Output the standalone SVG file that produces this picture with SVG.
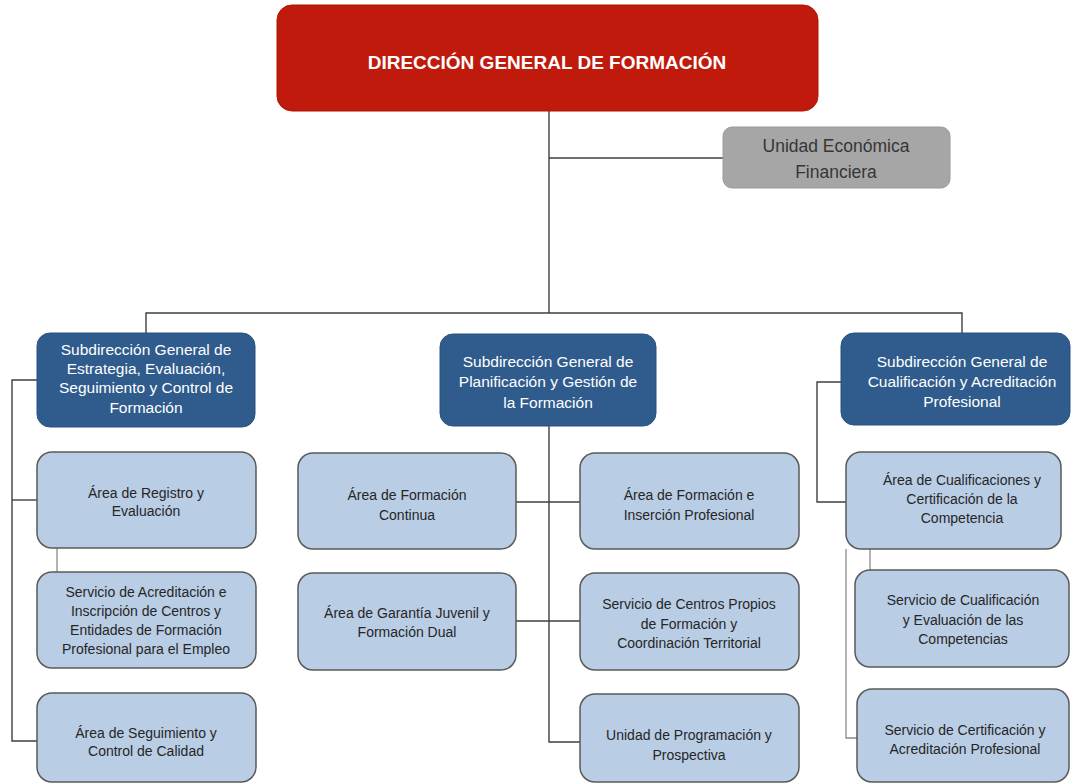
<svg xmlns="http://www.w3.org/2000/svg" width="1071" height="784" viewBox="0 0 1071 784">
<style>
.bg{fill:#ffffff}
.red{fill:#BF1A0B;stroke:#B01508;stroke-width:1}
.gray{fill:#A6A6A6;stroke:#9A9A9A;stroke-width:1}
.blue{fill:#2F5B8D;stroke:#2A5380;stroke-width:1}
.light{fill:#B9CDE5;stroke:#5A5A5A;stroke-width:1.5}
.t-red{font-family:"Liberation Sans",Arial,sans-serif;font-size:19px;font-weight:bold;fill:#ffffff;text-anchor:middle}
.t-gray{font-family:"Liberation Sans",Arial,sans-serif;font-size:17.5px;fill:#363636;text-anchor:middle}
.t-blue{font-family:"Liberation Sans",Arial,sans-serif;font-size:15.5px;fill:#ffffff;text-anchor:middle}
.t-light{font-family:"Liberation Sans",Arial,sans-serif;font-size:14px;fill:#262626;text-anchor:middle}
.c{fill:none;stroke:#3F3F3F;stroke-width:1.4}
.c2{fill:none;stroke:#8A8A8A;stroke-width:1.3}
</style>
<rect class="bg" x="0" y="0" width="1071" height="784"/>
<g id="connectors">
<path class="c" d="M549,111 V313"/>
<path class="c" d="M549,158 H723"/>
<path class="c" d="M146,333 V313 H962 V333"/>
<path class="c" d="M549,426 V742 H580"/>
<path class="c" d="M516,502 H580"/>
<path class="c" d="M516,621 H580"/>
<path class="c" d="M37,380 H12 V741 H37"/>
<path class="c" d="M12,500 H37"/>
<path class="c2" d="M57,548 V572"/>
<path class="c" d="M841,382 H817 V502 H846"/>
<path class="c2" d="M846,549 V738 H857"/>
<path class="c2" d="M870,549 V570"/>
</g>
<g id="dg">
<rect class="red" x="277" y="5" width="541" height="106" rx="15"/>
<text class="t-red" x="547" y="69">DIRECCIÓN GENERAL DE FORMACIÓN</text>
</g>
<g id="uef">
<rect class="gray" x="723" y="127" width="227" height="61" rx="9"/>
<text class="t-gray" x="836" y="152">Unidad Económica</text>
<text class="t-gray" x="836" y="178">Financiera</text>
</g>
<g id="sg1">
<rect class="blue" x="37" y="333" width="218" height="94" rx="13"/>
<text class="t-blue" x="146" y="355">Subdirección General de</text>
<text class="t-blue" x="146" y="374">Estrategia, Evaluación,</text>
<text class="t-blue" x="146" y="393">Seguimiento y Control de</text>
<text class="t-blue" x="146" y="413">Formación</text>
</g>
<g id="sg2">
<rect class="blue" x="440" y="334" width="216" height="92" rx="13"/>
<text class="t-blue" x="548" y="367">Subdirección General de</text>
<text class="t-blue" x="548" y="387">Planificación y Gestión de</text>
<text class="t-blue" x="548" y="408">la Formación</text>
</g>
<g id="sg3">
<rect class="blue" x="841" y="333" width="229" height="92" rx="13"/>
<text class="t-blue" x="962" y="367">Subdirección General de</text>
<text class="t-blue" x="962" y="387">Cualificación y Acreditación</text>
<text class="t-blue" x="962" y="407">Profesional</text>
</g>
<g id="l1">
<rect class="light" x="37" y="452" width="219" height="96" rx="15"/>
<text class="t-light" x="146" y="498">Área de Registro y</text>
<text class="t-light" x="146" y="516">Evaluación</text>
</g>
<g id="l2">
<rect class="light" x="37" y="572" width="219" height="96" rx="15"/>
<text class="t-light" x="146" y="597">Servicio de Acreditación e</text>
<text class="t-light" x="146" y="616">Inscripción de Centros y</text>
<text class="t-light" x="146" y="635">Entidades de Formación</text>
<text class="t-light" x="146" y="654">Profesional para el Empleo</text>
</g>
<g id="l3">
<rect class="light" x="37" y="693" width="219" height="89" rx="15"/>
<text class="t-light" x="146" y="738">Área de Seguimiento y</text>
<text class="t-light" x="146" y="756">Control de Calidad</text>
</g>
<g id="m1">
<rect class="light" x="298" y="453" width="218" height="96" rx="15"/>
<text class="t-light" x="407" y="500">Área de Formación</text>
<text class="t-light" x="407" y="520">Continua</text>
</g>
<g id="m2">
<rect class="light" x="580" y="453" width="219" height="96" rx="15"/>
<text class="t-light" x="689" y="500">Área de Formación e</text>
<text class="t-light" x="689" y="520">Inserción Profesional</text>
</g>
<g id="m3">
<rect class="light" x="298" y="573" width="218" height="97" rx="15"/>
<text class="t-light" x="407" y="618">Área de Garantía Juvenil y</text>
<text class="t-light" x="407" y="637">Formación Dual</text>
</g>
<g id="m4">
<rect class="light" x="580" y="573" width="219" height="97" rx="15"/>
<text class="t-light" x="689" y="609">Servicio de Centros Propios</text>
<text class="t-light" x="689" y="629">de Formación y</text>
<text class="t-light" x="689" y="648">Coordinación Territorial</text>
</g>
<g id="m5">
<rect class="light" x="580" y="694" width="219" height="88" rx="15"/>
<text class="t-light" x="689" y="740">Unidad de Programación y</text>
<text class="t-light" x="689" y="760">Prospectiva</text>
</g>
<g id="r1">
<rect class="light" x="846" y="452" width="215" height="97" rx="15"/>
<text class="t-light" x="962" y="485">Área de Cualificaciones y</text>
<text class="t-light" x="962" y="504">Certificación de la</text>
<text class="t-light" x="962" y="523">Competencia</text>
</g>
<g id="r2">
<rect class="light" x="855" y="570" width="214" height="97" rx="15"/>
<text class="t-light" x="963" y="605">Servicio de Cualificación</text>
<text class="t-light" x="963" y="625">y Evaluación de las</text>
<text class="t-light" x="963" y="644">Competencias</text>
</g>
<g id="r3">
<rect class="light" x="857" y="689" width="212" height="93" rx="15"/>
<text class="t-light" x="965" y="735">Servicio de Certificación y</text>
<text class="t-light" x="965" y="754">Acreditación Profesional</text>
</g>
</svg>
